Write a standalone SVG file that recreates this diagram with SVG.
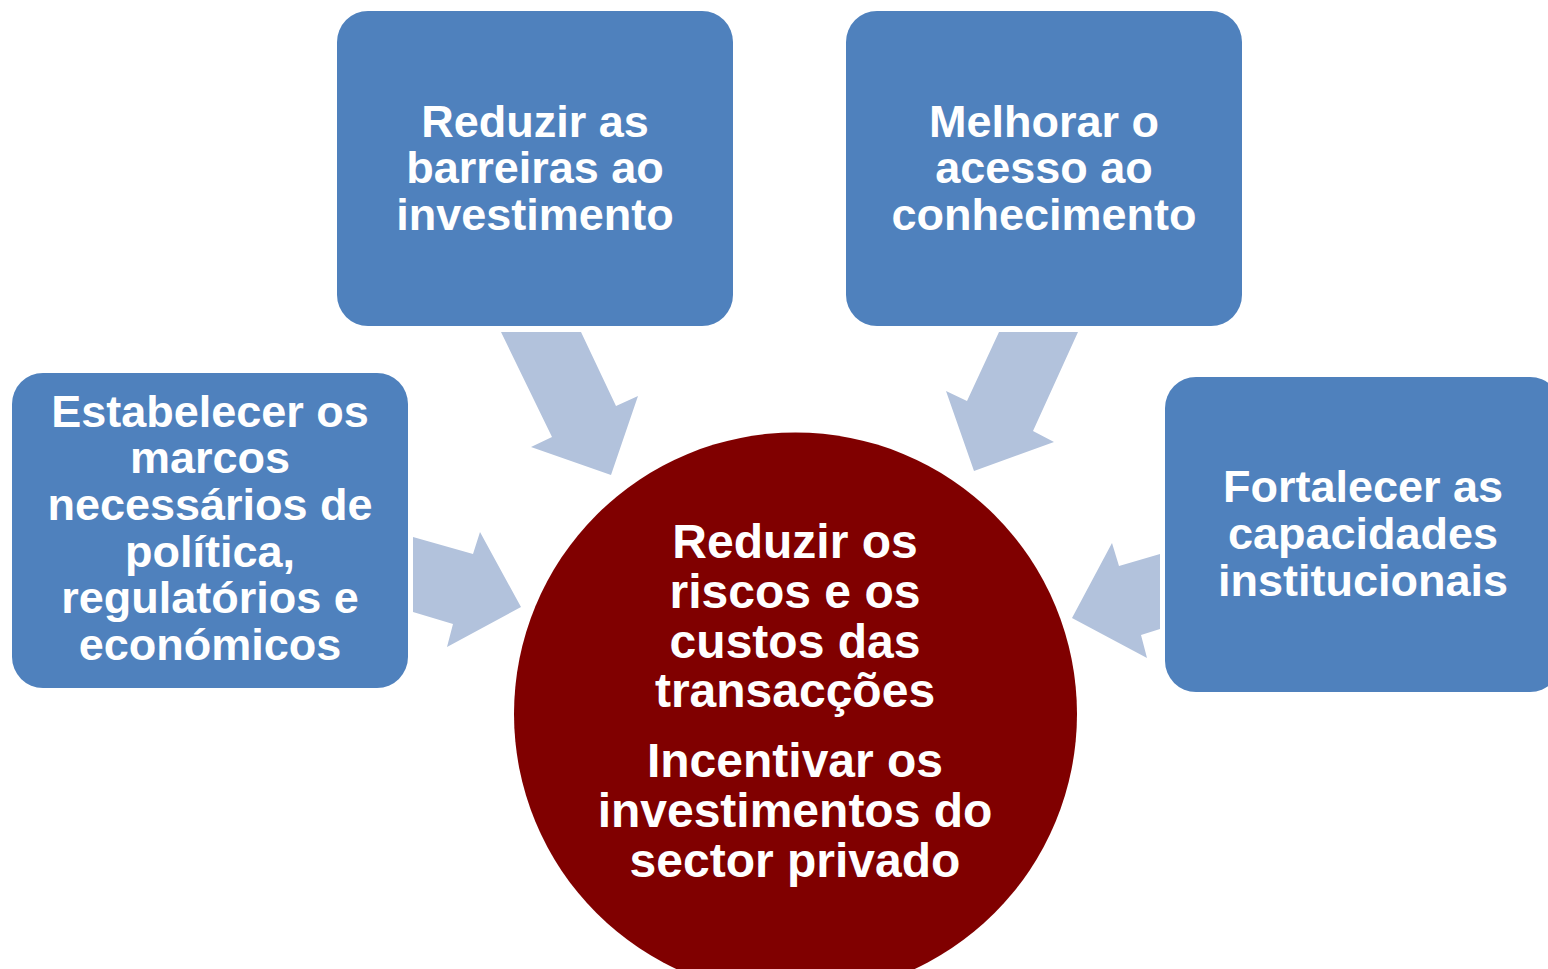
<svg xmlns="http://www.w3.org/2000/svg" width="1548" height="969" viewBox="0 0 1548 969">
<style>
.box{fill:#4F81BD;}
.arr{fill:#B2C2DC;}
.t{font-family:"Liberation Sans",Arial,sans-serif;font-weight:bold;fill:#FFFFFF;text-anchor:middle;}
.s45{font-size:45px;}
.s48{font-size:48px;}
</style>
<rect width="1548" height="969" fill="#FFFFFF"/>
<g id="connectors">
<polygon class="arr" points="501,332 581,332 616,406 638,396 611,475 531,447 552,437"/>
<polygon class="arr" points="999,332 1078,332 1033,431 1054,442 974,471 946,391 967,401"/>
<polygon class="arr" points="413,537 473,554 480,532 521,607 447,647 453,624 413,612"/>
<polygon class="arr" points="1160,554 1119,566 1112,543 1072,618 1147,658 1141,635 1160,629"/>
</g>
<g id="center">
<circle cx="795.5" cy="714" r="281.5" fill="#800000"/>
<text class="t s48" x="795" y="558">Reduzir os</text>
<text class="t s48" x="795" y="608">riscos e os</text>
<text class="t s48" x="795" y="658">custos das</text>
<text class="t s48" x="795" y="707">transacções</text>
<text class="t s48" x="795" y="777">Incentivar os</text>
<text class="t s48" x="795" y="827">investimentos do</text>
<text class="t s48" x="795" y="877">sector privado</text>
</g>
<g id="node-top-left">
<rect class="box" x="337" y="11" width="396" height="315" rx="31"/>
<text class="t s45" x="535" y="137">Reduzir as</text>
<text class="t s45" x="535" y="183">barreiras ao</text>
<text class="t s45" x="535" y="230">investimento</text>
</g>
<g id="node-top-right">
<rect class="box" x="846" y="11" width="396" height="315" rx="31"/>
<text class="t s45" x="1044" y="137">Melhorar o</text>
<text class="t s45" x="1044" y="183">acesso ao</text>
<text class="t s45" x="1044" y="230">conhecimento</text>
</g>
<g id="node-left">
<rect class="box" x="12" y="373" width="396" height="315" rx="31"/>
<text class="t s45" x="210" y="427">Estabelecer os</text>
<text class="t s45" x="210" y="473">marcos</text>
<text class="t s45" x="210" y="520">necessários de</text>
<text class="t s45" x="210" y="567">política,</text>
<text class="t s45" x="210" y="613">regulatórios e</text>
<text class="t s45" x="210" y="660">económicos</text>
</g>
<g id="node-right">
<rect class="box" x="1165" y="377" width="396" height="315" rx="31"/>
<text class="t s45" x="1363" y="502">Fortalecer as</text>
<text class="t s45" x="1363" y="549">capacidades</text>
<text class="t s45" x="1363" y="596">institucionais</text>
</g>
</svg>
